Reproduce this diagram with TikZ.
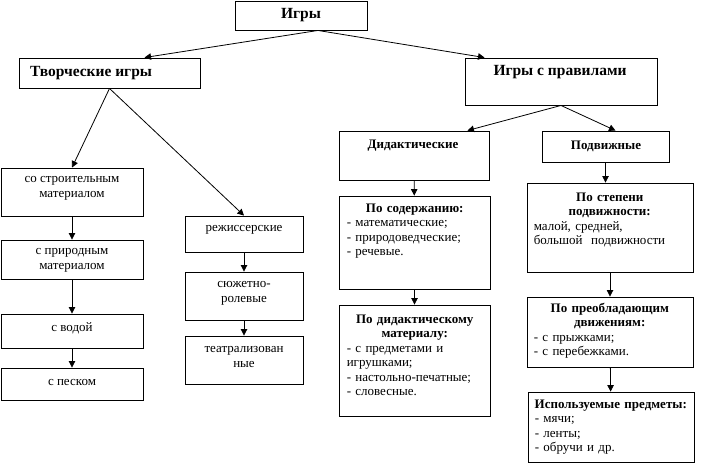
\documentclass[tikz,border=0pt]{standalone}
\usepackage{fontspec}
\setmainfont{Liberation Serif}
\usetikzlibrary{arrows.meta,fit,calc}
\tikzset{
  box/.style={draw, line width=0.9pt, inner sep=0pt},
  arr/.style={-{Triangle[length=6.5pt,width=6.5pt]}, line width=0.8pt},
  big/.style={font=\fontsize{15.5}{17}\selectfont\bfseries, inner sep=0pt},
  mid/.style={font=\fontsize{13}{15}\selectfont, align=center, inner sep=0pt},
  hd/.style={font=\fontsize{13}{15}\selectfont\bfseries, inner sep=0pt},
  lst/.style={font=\fontsize{13}{14.5}\selectfont, align=left, inner sep=0pt, anchor=north west}
}
\newcommand{\hdl}[1]{\makebox[\linewidth][c]{\bfseries #1}}
\begin{document}
\begin{tikzpicture}[x=1pt,y=-1pt]
\useasboundingbox (0,0) rectangle (720,464);
% boxes
\node[box, fit={(235,1)(367,30)}] (igry) {};
\node[box, fit={(19,58)(200,88)}] (tv) {};
\node[box, fit={(465,58)(657,105)}] (pr) {};
\node[box, fit={(339,131)(489,180)}] (did) {};
\node[box, fit={(542,131)(669,162)}] (pod) {};
\node[box, fit={(1,168)(143,216)}] (b1) {};
\node[box, fit={(1,240)(143,279)}] (b2) {};
\node[box, fit={(1,314)(143,348)}] (b3) {};
\node[box, fit={(1,368)(143,400)}] (b4) {};
\node[box, fit={(185,216)(303,252)}] (m1) {};
\node[box, fit={(185,272)(303,320)}] (m2) {};
\node[box, fit={(185,336)(303,384)}] (m3) {};
\node[box, fit={(339,196)(490,289)}] (sod) {};
\node[box, fit={(339,305)(490,416)}] (dm) {};
\node[box, fit={(527,183)(693,272)}] (st) {};
\node[box, fit={(527,297)(693,367)}] (pb) {};
\node[box, fit={(528,392)(694,462)}] (isp) {};
% texts
\node[big] (t-igry) at (301,15) {Игры};
\node[big, anchor=west] (t-tv) at (30,73) {Творческие игры};
\node[big] (t-pr) at (560,72) {Игры с правилами};
\node[hd] (t-did) at (413,146) {Дидактические};
\node[hd] (t-pod) at (606,146.5) {Подвижные};
\node[mid] (t-b1) at (72,188.5) {со строительным\\материалом};
\node[mid] (t-b2) at (72,260.5) {с природным\\материалом};
\node[mid] (t-b3) at (72,328) {с водой};
\node[mid] (t-b4) at (72,382) {с песком};
\node[mid] (t-m1) at (244,230) {режиссерские};
\node[mid] (t-m2) at (244,293.5) {сюжетно-\\ролевые};
\node[mid] (t-m3) at (244,357) {театрализован\\ные};
\node[lst, text width=136pt] (t-sod) at ($(sod.north west)+(8,8)$)
  {\hdl{По содержанию:}\\- математические;\\- природоведческие;\\- речевые.};
\node[lst, text width=136pt] (t-dm) at ($(dm.north west)+(8,10)$)
  {\hdl{По дидактическому}\\\hdl{материалу:}\\- с предметами и\\игрушками;\\- настольно-печатные;\\- словесные.};
\node[lst, text width=152pt] (t-st) at ($(st.north west)+(7,10)$)
  {\hdl{По степени}\\\hdl{подвижности:}\\малой, средней,\\большой\ \ подвижности};
\node[lst, text width=152pt] (t-pb) at ($(pb.north west)+(7,6)$)
  {\hdl{По преобладающим}\\\hdl{движениям:}\\- с прыжками;\\- с перебежками.};
\node[lst, text width=152pt] (t-isp) at ($(isp.north west)+(7,8)$)
  {\hdl{Используемые предметы:}\\- мячи;\\- ленты;\\- обручи и др.};
% connectors
\draw[arr] ([xshift=17pt]igry.south) -- ([xshift=35pt]tv.north);
\draw[arr] ([xshift=17pt]igry.south) -- ($(pr.north west)+(20,0)$);
\draw[arr] (tv.south) -- (b1.north);
\draw[arr] (tv.south) -- (m1.north);
\draw[arr] (b1) -- (b2);
\draw[arr] (b2) -- (b3);
\draw[arr] (b3) -- (b4);
\draw[arr] (m1) -- (m2);
\draw[arr] (m2) -- (m3);
\draw[arr] (pr.south) -- ($(did.north east)+(-22,0)$);
\draw[arr] (pr.south) -- ([xshift=10pt]pod.north);
\draw[arr] (did) -- (sod);
\draw[arr] (sod) -- (dm);
\draw[arr] (pod.south) -- (pod.south |- st.north);
\draw[arr] (st) -- (pb);
\draw[arr] (pb) -- (isp);
\end{tikzpicture}
\end{document}
